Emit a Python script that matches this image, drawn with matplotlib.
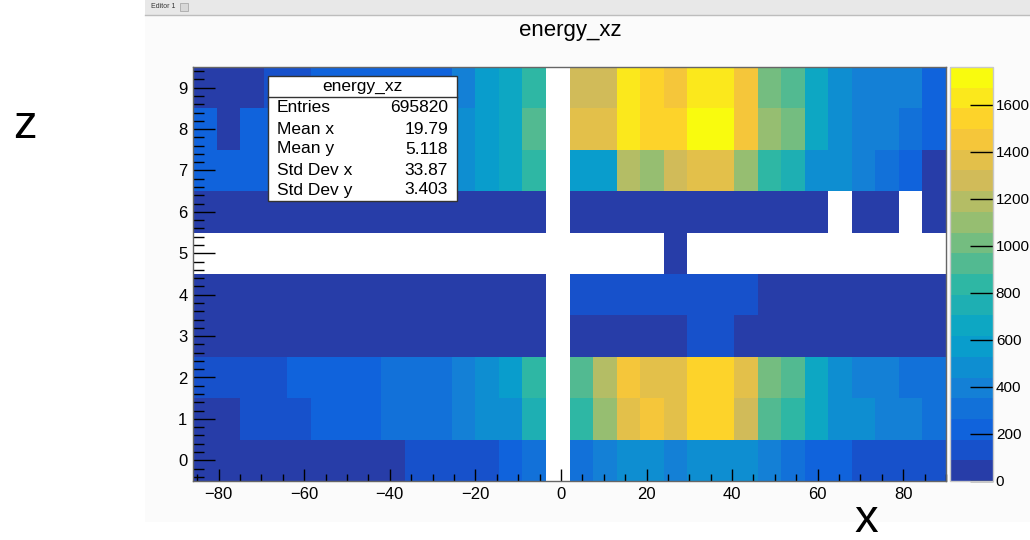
import numpy as np
import matplotlib
matplotlib.use('Agg')
import matplotlib.pyplot as plt
from matplotlib.colors import ListedColormap, BoundaryNorm
from matplotlib.ticker import MultipleLocator
from matplotlib.patches import Rectangle
from matplotlib.lines import Line2D

plt.rcParams['font.family'] = ['Liberation Sans', 'DejaVu Sans']

# histogram binning (TH2: 32 bins in x, 10 bins in z)
x_lo, x_hi, nx = -86, 90, 32
z_lo, z_hi, nz = -0.5, 9.5, 10
z_max = 1760
n_levels = 20

# bin contents, one list per z row (row 0 = bottom), 0 = empty bin
row0 = [40, 42, 38, 45, 40, 44, 41, 39, 43, 130, 135, 138, 140, 220, 310, 0,
        310, 400, 480, 485, 400, 480, 490, 485, 400, 310, 220, 225, 130, 135, 132, 140]
row1 = [40, 45, 130, 140, 135, 215, 225, 230, 300, 310, 320, 395, 470, 500, 760, 0,
        840, 1100, 1360, 1450, 1370, 1540, 1550, 1280, 920, 830, 660, 490, 480, 400, 390, 310]
row2 = [140, 145, 150, 150, 225, 230, 235, 240, 305, 315, 320, 400, 490, 600, 830, 0,
        920, 1190, 1450, 1370, 1360, 1550, 1560, 1350, 1010, 930, 660, 490, 410, 400, 320, 310]
row3 = [30, 32, 35, 33, 31, 36, 34, 30, 33, 35, 32, 31, 34, 36, 38, 0,
        40, 42, 41, 39, 44, 120, 125, 45, 40, 38, 36, 35, 34, 33, 32, 30]
row4 = [40, 41, 42, 40, 43, 44, 42, 41, 40, 45, 44, 43, 46, 47, 48, 0,
        130, 132, 135, 134, 136, 138, 137, 133, 45, 44, 43, 42, 41, 40, 39, 38]
row5 = [0, 0, 0, 0, 0, 0, 0, 0, 0, 0, 0, 0, 0, 0, 0, 0,
        0, 0, 0, 0, 30, 0, 0, 0, 0, 0, 0, 0, 0, 0, 0, 0]
row6 = [50, 51, 52, 50, 49, 52, 53, 51, 50, 52, 54, 55, 53, 56, 57, 0,
        55, 54, 53, 52, 51, 50, 49, 48, 47, 46, 45, 0, 40, 41, 0, 35]
row7 = [220, 225, 230, 230, 232, 235, 236, 238, 240, 240, 240, 480, 570, 660, 830, 0,
        570, 580, 1190, 1100, 1280, 1360, 1370, 1100, 830, 750, 480, 490, 400, 310, 220, 40]
row8 = [220, 40, 220, 230, 232, 234, 236, 238, 240, 240, 240, 480, 570, 660, 920, 0,
        1360, 1370, 1630, 1540, 1545, 1750, 1720, 1450, 1100, 1010, 660, 480, 400, 400, 310, 220]
row9 = [40, 42, 44, 130, 135, 220, 222, 225, 228, 230, 232, 400, 570, 660, 830, 0,
        1280, 1270, 1630, 1540, 1450, 1630, 1640, 1450, 1010, 920, 660, 480, 400, 400, 400, 220]

stats_labels = ['Entries', 'Mean x', 'Mean y', 'Std Dev x', 'Std Dev y']
stats_values = ['695820', '19.79', '5.118', '33.87', '3.403']
cbar_ticks = [0, 200, 400, 600, 800, 1000, 1200, 1400, 1600]

# ROOT kBird palette
bird_stops = [0.0, 0.125, 0.25, 0.375, 0.5, 0.625, 0.75, 0.875, 1.0]
bird_r = [0.2082, 0.0592, 0.0780, 0.0232, 0.1802, 0.5301, 0.8186, 0.9956, 0.9764]
bird_g = [0.1664, 0.3599, 0.5041, 0.6419, 0.7178, 0.7492, 0.7328, 0.7862, 0.9832]
bird_b = [0.5293, 0.8684, 0.8385, 0.7914, 0.6425, 0.4662, 0.3499, 0.1968, 0.0539]


def bird_colors(nlev):
    # same color picking as THistPainter with 255 palette colors
    cols = []
    for k in range(nlev):
        idx = int((k + 0.99) * 255 / nlev)
        pos = min(idx, 254) / 254.0
        cols.append((np.interp(pos, bird_stops, bird_r),
                     np.interp(pos, bird_stops, bird_g),
                     np.interp(pos, bird_stops, bird_b)))
    return cols


def px(x):
    return x / 1030.0


def py(y):
    return 1 - y / 540.0


grid = np.array([row0, row1, row2, row3, row4, row5, row6, row7, row8, row9], dtype=float)
grid = np.ma.masked_where(grid <= 0, grid)
xedges = np.linspace(x_lo, x_hi, nx + 1)
zedges = np.linspace(z_lo, z_hi, nz + 1)

cmap = ListedColormap(bird_colors(n_levels))
levels = np.linspace(0, z_max, n_levels + 1)
norm = BoundaryNorm(levels, n_levels)

fig = plt.figure(figsize=(10.3, 5.4), dpi=100)
fig.patch.set_facecolor('white')

# canvas background + editor tab bar
fig.patches.append(Rectangle((px(145), py(522)), px(1030 - 145), py(15) - py(522),
                             transform=fig.transFigure, facecolor='#fbfbfb', edgecolor='none', zorder=-5))
fig.patches.append(Rectangle((px(145), py(15)), px(1030 - 145), 15 / 540.0,
                             transform=fig.transFigure, facecolor='#e8e8e8', edgecolor='none', zorder=-4))
fig.lines.append(Line2D([px(145), 1], [py(15), py(15)], transform=fig.transFigure, color='#bdbdbd', lw=1))
fig.text(px(151), py(7), 'Editor 1', fontsize=5, va='center', ha='left', color='#333333')
fig.patches.append(Rectangle((px(180), py(11)), px(8), 8 / 540.0, transform=fig.transFigure,
                             facecolor='#d8d8d8', edgecolor='#aaaaaa', lw=0.6))

ax = fig.add_axes([px(193), py(481), px(946 - 193), (481 - 67) / 540.0])
ax.set_facecolor('white')
mesh = ax.pcolormesh(xedges, zedges, grid, cmap=cmap, norm=norm, shading='flat',
                     edgecolors='face', linewidth=0, antialiased=False)
ax.set_xlim(x_lo, x_hi)
ax.set_ylim(z_lo, z_hi)
ax.xaxis.set_major_locator(MultipleLocator(20))
ax.xaxis.set_minor_locator(MultipleLocator(5))
ax.yaxis.set_major_locator(MultipleLocator(1))
ax.yaxis.set_minor_locator(MultipleLocator(0.2))
ax.tick_params(axis='x', which='major', direction='in', length=8.6, width=1, pad=4, labelsize=12)
ax.tick_params(axis='x', which='minor', direction='in', length=5, width=1)
ax.tick_params(axis='y', which='major', direction='in', length=15.8, width=1, pad=4, labelsize=12)
ax.tick_params(axis='y', which='minor', direction='in', length=8, width=1)
for s in ax.spines.values():
    s.set_color('#666666')
    s.set_linewidth(1)

cax = fig.add_axes([px(950), py(481), px(993 - 950), (481 - 67) / 540.0])
cbar = fig.colorbar(mesh, cax=cax, ticks=cbar_ticks)
cbar.outline.set_edgecolor('#c8c8c8')
cbar.outline.set_linewidth(1)
cax.tick_params(direction='in', length=16.5, width=1, pad=2, labelsize=11, color='black')
cax.minorticks_off()

# titles
fig.text(px(570), py(31), 'energy_xz', ha='center', va='center', fontsize=16)
fig.text(px(25), py(126), 'z', ha='center', va='center', fontsize=34)
fig.text(px(866), py(520), 'x', ha='center', va='center', fontsize=34)

# stats box
bx0, bx1, by0, by1 = 268, 457, 76, 201
fig.patches.append(Rectangle((px(bx0), py(by1)), px(bx1 - bx0), (by1 - by0) / 540.0,
                             transform=fig.transFigure, facecolor='white', edgecolor='#333333',
                             lw=1, zorder=5))
fig.lines.append(Line2D([px(bx0), px(bx1)], [py(96.5), py(96.5)], transform=fig.transFigure,
                        color='#333333', lw=1, zorder=6))
fig.text(px((bx0 + bx1) / 2), py(86), 'energy_xz', ha='center', va='center', fontsize=12.5, zorder=7)
row_y = [108, 129, 149, 170, 190]
for lab, val, yy in zip(stats_labels, stats_values, row_y):
    fig.text(px(277), py(yy), lab, ha='left', va='center', fontsize=12.5, zorder=7)
    fig.text(px(448), py(yy), val, ha='right', va='center', fontsize=12.5, zorder=7)

plt.savefig('out.png', dpi=100)
